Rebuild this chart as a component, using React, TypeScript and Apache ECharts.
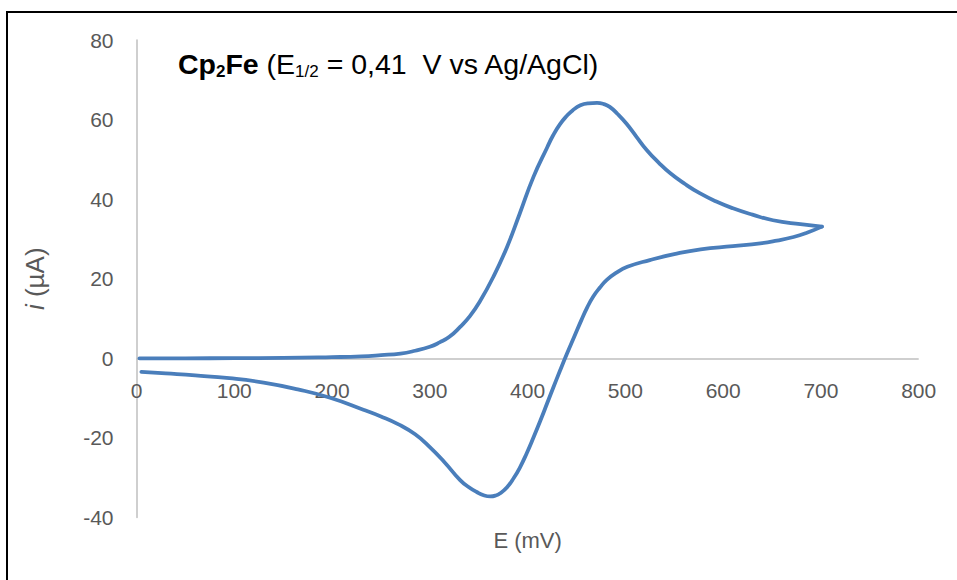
import React, { useEffect, useRef } from 'react';
import * as echarts from 'echarts';

// Forward (oxidative) scan: potential E (mV) and current i (µA)
const forwardE = [3, 50, 100, 150, 200, 230, 250, 270, 285, 300, 310, 320, 331, 341, 351, 365, 379, 392, 406, 420, 426, 433, 440, 446, 454, 462, 471, 478, 484, 492, 501, 511, 522, 534, 546, 561, 576, 593, 610, 630, 651, 679, 701];
const forwardI = [0, 0, 0.05, 0.1, 0.3, 0.5, 0.8, 1.2, 1.9, 2.9, 4.0, 5.4, 7.9, 10.6, 14.2, 20.5, 28, 36.4, 45.6, 53.0, 56.0, 58.8, 60.9, 62.3, 63.6, 64.1, 64.2, 63.9, 63.2, 61.4, 59, 55.8, 52.3, 49.2, 46.5, 43.8, 41.5, 39.4, 37.7, 36.1, 34.7, 33.7, 33.1];

// Reverse (reductive) scan
const reverseE = [701, 685, 672, 655, 638, 610, 577, 550, 525, 502, 490, 481, 474, 467, 461, 455, 448, 440, 433, 426, 420, 413, 406, 399, 392, 386, 379, 372, 367, 362, 355, 348, 340, 331, 315, 300, 285, 268, 250, 232, 198, 165, 130, 95, 60, 30, 5];
const reverseI = [33.1, 31.5, 30.5, 29.6, 28.9, 28.2, 27.4, 26.2, 24.7, 23, 21.4, 19.7, 17.8, 15.5, 12.8, 9.6, 5.6, 1.0, -3.2, -7.5, -11.3, -15.7, -19.9, -23.9, -27.5, -30.0, -32.4, -33.9, -34.5, -34.7, -34.4, -33.6, -32.4, -30.6, -26.1, -22.3, -19.1, -16.6, -14.6, -12.9, -9.9, -7.8, -6.1, -5.0, -4.3, -3.8, -3.4];

const xMin = 0;
const xMax = 800;
const xStep = 100;
const yMin = -40;
const yMax = 80;
const yStep = 20;

const titleText = '{b|Cp}{bs|2}{b|Fe}{n| (E}{s|1/2}{n| = 0,41  V vs Ag/AgCl)}';
const xName = 'E (mV)';
const yName = '{it|i}{n| (µA)}';

const FONT = 'Liberation Sans';
const GREY = '#595959';
const AXIS_GREY = '#bfbfbf';
const LINE_BLUE = '#4A7EBB';

const GRID_TOP = 40;
const GRID_BOTTOM = 62.5;
const CHART_H = 580;

export default function App() {
  const ref = useRef<HTMLDivElement>(null);

  useEffect(() => {
    document.body.style.margin = '0';
    const chart = echarts.init(ref.current!, null, { renderer: 'svg' });
    const forwardData = forwardE.map((e, k) => [e, forwardI[k]]);
    const reverseData = reverseE.map((e, k) => [e, reverseI[k]]);

    // distance (px) from the grid bottom up to the zero line, so the labels sit under y = 0
    const plotH = CHART_H - GRID_TOP - GRID_BOTTOM;
    const zeroOffset = (plotH * (0 - yMin)) / (yMax - yMin);

    const lineSeries = (data: number[][]) => ({
      type: 'line',
      data,
      smooth: 0.5,
      showSymbol: false,
      symbol: 'none',
      lineStyle: { color: LINE_BLUE, width: 3.8, cap: 'round', join: 'round' },
      itemStyle: { color: LINE_BLUE },
      clip: false,
      z: 3,
    });

    chart.setOption({
      animation: false,
      backgroundColor: '#ffffff',
      title: {
        text: titleText,
        left: 178,
        top: 47,
        padding: 0,
        textStyle: {
          fontFamily: FONT,
          fontSize: 28.5,
          color: '#000',
          rich: {
            b: { fontFamily: FONT, fontSize: 28.5, fontWeight: 'bold', color: '#000', lineHeight: 33 },
            bs: { fontFamily: FONT, fontSize: 17, fontWeight: 'bold', color: '#000', lineHeight: 17, verticalAlign: 'bottom' },
            n: { fontFamily: FONT, fontSize: 28.5, fontWeight: 'normal', color: '#000', lineHeight: 33 },
            s: { fontFamily: FONT, fontSize: 17, fontWeight: 'normal', color: '#000', lineHeight: 17, verticalAlign: 'bottom' },
          },
        },
      },
      graphic: [
        {
          type: 'rect',
          shape: { x: 7, y: 12, width: 1000, height: 1000 },
          style: { fill: 'none', stroke: '#000', lineWidth: 2 },
          silent: true,
        },
      ],
      grid: {
        left: 136.5,
        right: 38.3,
        top: GRID_TOP,
        bottom: GRID_BOTTOM,
        containLabel: false,
        outerBoundsMode: 'none',
      },
      xAxis: {
        type: 'value',
        min: xMin,
        max: xMax,
        interval: xStep,
        offset: -zeroOffset,
        name: xName,
        nameLocation: 'middle',
        nameGap: 171,
        nameTextStyle: { fontFamily: FONT, fontSize: 22, color: GREY },
        axisLine: { show: false, onZero: false },
        axisTick: { show: false },
        splitLine: { show: false },
        axisLabel: { fontFamily: FONT, fontSize: 21, color: GREY, margin: 22 },
      },
      yAxis: {
        type: 'value',
        min: yMin,
        max: yMax,
        interval: yStep,
        name: yName,
        nameLocation: 'middle',
        nameRotate: 90,
        nameGap: 89,
        nameTextStyle: {
          fontFamily: FONT,
          fontSize: 26,
          color: GREY,
          rich: {
            it: { fontFamily: FONT, fontSize: 26, fontStyle: 'italic', color: GREY },
            n: { fontFamily: FONT, fontSize: 26, color: GREY },
          },
        },
        axisLine: { show: true, onZero: false, lineStyle: { color: AXIS_GREY, width: 1.5 } },
        axisTick: { show: false },
        splitLine: { show: false },
        axisLabel: { fontFamily: FONT, fontSize: 21, color: GREY, margin: 23 },
      },
      series: [
        {
          ...lineSeries(forwardData),
          markLine: {
            silent: true,
            symbol: 'none',
            label: { show: false },
            lineStyle: { color: AXIS_GREY, width: 1.5, type: 'solid' },
            data: [{ yAxis: 0 }],
            z: 1,
          },
        },
        lineSeries(reverseData),
      ],
    });
    return () => chart.dispose();
  }, []);

  return <div ref={ref} style={{ width: 957, height: 580, position: 'absolute', left: 0, top: 0 }} />;
}
